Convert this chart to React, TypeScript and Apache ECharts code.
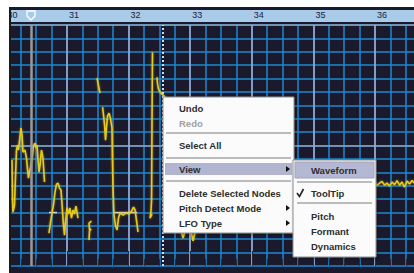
import React, { useEffect, useRef } from 'react';
import * as echarts from 'echarts';

// x = beats counted from bar 30, y = semitone rows of the pitch grid
const FIRST_BAR = 30;
const BEATS_PER_BAR = 4;
const X_MAX = 26.53;
const Y_MAX = 18;

const pitchA = [
  [0.43, 7.91], [0.46, 4.93], [0.49, 4.03], [0.59, 4.55], [0.66, 6.79], [0.72, 8.66],
  [0.79, 9.03], [0.85, 8.66], [0.92, 9.4], [1.01, 10.3], [1.08, 9.78], [1.14, 8.51],
  [1.27, 8.66], [1.37, 8.06], [1.44, 7.16], [1.5, 6.57], [1.56, 7.01], [1.66, 7.54],
  [1.76, 8.28], [1.82, 8.96], [1.92, 9.18], [1.99, 8.81], [2.05, 9.03], [2.12, 7.91],
  [2.18, 7.01], [2.25, 7.54], [2.34, 8.66], [2.44, 8.06], [2.51, 6.79], [2.54, 6.27],
];
const pitchB = [
  [2.83, 2.46], [2.93, 3.28], [3.03, 3.96], [3.12, 4.55], [3.22, 5.52], [3.32, 6.12],
  [3.42, 6.19], [3.51, 5.82], [3.61, 5.67], [3.68, 4.55], [3.77, 3.06], [3.84, 2.31],
  [3.9, 3.28], [4.0, 4.33], [4.1, 3.88], [4.19, 4.33], [4.29, 3.58], [4.39, 4.18],
  [4.49, 3.88], [4.58, 4.48], [4.65, 4.03], [4.71, 3.58],
];
const pitchC = [[5.59, 3.36], [5.43, 3.21], [5.46, 2.69], [5.56, 2.76], [5.46, 2.61], [5.43, 1.94]];
const pitchD1 = [[5.95, 14.03], [6.05, 13.43], [6.14, 12.91]];
const pitchD2 = [
  [6.31, 11.87], [6.37, 11.27], [6.44, 10.52], [6.5, 9.4], [6.56, 10.3], [6.63, 11.19],
  [6.73, 11.42], [6.82, 11.04], [6.92, 10.3], [6.95, 7.91], [6.99, 5.67], [7.05, 3.81],
  [7.15, 2.99], [7.25, 2.69], [7.34, 3.58], [7.44, 3.96], [7.64, 3.81], [7.83, 3.96],
  [8.03, 3.88], [8.19, 4.1], [8.32, 4.4], [8.42, 4.18], [8.51, 3.43], [8.61, 2.54],
];
const pitchE = [[9.55, 15.97], [9.52, 10.9], [9.49, 4.93], [9.45, 4.03], [9.39, 3.58], [9.52, 3.88]];
const pitchF = [[9.84, 14.1], [9.88, 13.58], [9.94, 13.21], [10.04, 12.99], [10.17, 12.84], [10.43, 12.54]];
const pitchG = [[11.34, 3.06], [11.53, 2.09], [11.73, 2.84], [11.99, 2.99], [12.18, 1.87], [12.38, 2.84]];
const pitchH = [
  [23.81, 6.12], [23.97, 6.27], [24.13, 6.01], [24.29, 6.19], [24.45, 6.31], [24.62, 6.04],
  [24.78, 6.19], [24.94, 5.97], [25.1, 6.27], [25.27, 6.08], [25.43, 6.38], [25.59, 6.04],
  [25.75, 6.27], [25.92, 5.9], [26.08, 6.34], [26.24, 6.12], [26.4, 6.38], [26.56, 6.19],
];
const pitchSegments = [pitchA, pitchB, pitchC, pitchD1, pitchD2, pitchE, pitchF, pitchG, pitchH];

const noteA = [[2.83, 4], [3.35, 4]];
const noteB = [[6.99, 4], [8.55, 4]];
const playheadBeat = 1.66;
const cursorBeat = 10.19;

const menuItems = ['Undo', 'Redo', 'Select All', 'View', 'Delete Selected Nodes', 'Pitch Detect Mode', 'LFO Type'];
const subMenuItems = ['Waveform', 'ToolTip', 'Pitch', 'Formant', 'Dynamics'];

const FONT = '"Liberation Sans", Arial, sans-serif';

function menuText(text: string, x: number, y: number, color = '#2e2e2e') {
  return {
    type: 'text',
    z: 200,
    style: { text, x, y, fill: color, fontSize: 9.5, fontWeight: 'bold', fontFamily: FONT, verticalAlign: 'middle' },
  };
}
function sep(x1: number, x2: number, y: number) {
  return { type: 'line', z: 200, shape: { x1, y1: y, x2, y2: y }, style: { stroke: '#7c7c7c', lineWidth: 1 } };
}
function arrow(x: number, y: number) {
  return { type: 'polygon', z: 201, shape: { points: [[x, y - 3], [x + 4, y], [x, y + 3]] }, style: { fill: '#111' } };
}

export default function App() {
  const ref = useRef<HTMLDivElement>(null);
  useEffect(() => {
    if (!ref.current) return;
    const chart = echarts.init(ref.current, undefined, { renderer: 'svg' });

    const pitchSeries = pitchSegments.map((seg) => ({
      type: 'line',
      data: seg,
      symbol: 'none',
      silent: true,
      z: 4,
      lineStyle: { color: '#e4cb1c', width: 1.6, shadowColor: 'rgba(230,180,30,0.6)', shadowBlur: 2 },
    }));

    const menuY = [108, 123, 145, 169, 193, 208, 223];
    const subY = [170, 193, 216, 231, 246];

    const graphics: any[] = [
      { type: 'rect', z: -10, shape: { x: 9, y: 7, width: 405, height: 266 }, style: { fill: '#1b1a2c' } },
      { type: 'rect', z: -5, shape: { x: 11, y: 10, width: 403, height: 12 }, style: { fill: '#a9cbea' } },
      { type: 'rect', z: 100, shape: { x: 0, y: 0, width: 9, height: 273 }, style: { fill: '#ffffff' } },
      { type: 'rect', z: 100, shape: { x: 9, y: 7, width: 2, height: 266 }, style: { fill: '#1a1a1a' } },
      {
        type: 'polygon', z: 60,
        shape: { points: [[27, 11], [35, 11], [35, 16], [31, 20], [27, 16]] },
        style: { fill: 'rgba(0,0,0,0)', stroke: '#ffffff', lineWidth: 1.3 },
      },
      // main context menu
      {
        type: 'rect', z: 199, shape: { x: 163, y: 97, width: 131, height: 136 },
        style: { fill: '#fbfbfb', stroke: '#8e8e8e', lineWidth: 1, shadowBlur: 3, shadowColor: 'rgba(0,0,0,0.35)', shadowOffsetX: 1, shadowOffsetY: 1 },
      },
      { type: 'rect', z: 200, shape: { x: 165, y: 163, width: 127, height: 12 }, style: { fill: '#b1b5cf' } },
      sep(166, 291, 133),
      sep(166, 291, 158),
      sep(166, 291, 181),
      ...menuItems.map((t, i) => menuText(t, 179, menuY[i], t === 'Redo' ? '#a0a0a0' : '#2e2e2e')),
      arrow(286, 169),
      arrow(286, 208),
      arrow(286, 223),
      // submenu
      {
        type: 'rect', z: 202, shape: { x: 293, y: 160, width: 83, height: 97 },
        style: { fill: '#fbfbfb', stroke: '#8e8e8e', lineWidth: 1, shadowBlur: 3, shadowColor: 'rgba(0,0,0,0.35)', shadowOffsetX: 1, shadowOffsetY: 1 },
      },
      { type: 'rect', z: 203, shape: { x: 295, y: 162, width: 79, height: 16 }, style: { fill: '#b4b8d2', stroke: '#9ea3c0', lineWidth: 1 } },
      { ...sep(297, 372, 182), z: 203 },
      { ...sep(297, 372, 203), z: 203 },
      {
        type: 'polyline', z: 204, shape: { points: [[297, 193], [299.5, 196.5], [303.5, 189]] },
        style: { stroke: '#222', lineWidth: 1.6, fill: 'none' },
      },
      ...subMenuItems.map((t, i) => ({ ...menuText(t, 311, subY[i]), z: 204 })),
    ];

    const option: any = {
      animation: false,
      backgroundColor: '#ffffff',
      grid: { left: 5.4, right: 0, top: 25, bottom: 7, show: true, backgroundColor: '#1b1a2c', borderWidth: 0 },
      xAxis: [
        {
          type: 'value', position: 'top', min: 0, max: X_MAX, interval: 1,
          axisLine: { show: false },
          axisLabel: { show: false },
          axisTick: { show: true, length: 7, lineStyle: { color: '#2a2a3a', width: 1 } },
          splitLine: { show: true, showMaxLine: false, lineStyle: { color: '#1d8ad0', width: 1.5 } },
        },
        {
          type: 'value', position: 'top', min: 0, max: X_MAX, interval: BEATS_PER_BAR, z: 1,
          axisLine: { show: false },
          axisTick: { show: true, length: 15, lineStyle: { color: '#2a2a3a', width: 1 } },
          axisLabel: {
            show: true, showMaxLabel: false,
            formatter: (v: number) => String(FIRST_BAR + v / BEATS_PER_BAR),
            align: 'left', verticalAlign: 'middle', margin: 10, padding: [0, 0, 0, 2],
            fontSize: 9, color: '#1a1a3a', fontFamily: FONT,
          },
          splitLine: { show: true, showMaxLine: false, lineStyle: { color: '#a4acd0', width: 1.5 } },
        },
      ],
      yAxis: [
        {
          type: 'value', min: 0, max: Y_MAX, interval: 1,
          axisLine: { show: false }, axisTick: { show: false }, axisLabel: { show: false },
          splitLine: { show: true, lineStyle: { color: '#1d8ad0', width: 1.5 } },
        },
        {
          type: 'value', min: 0, max: Y_MAX, interval: 9, z: 1,
          axisLine: { show: false }, axisTick: { show: false }, axisLabel: { show: false },
          splitLine: { show: true, showMinLine: false, lineStyle: { color: '#8ea0b8', width: 1.5 } },
        },
      ],
      series: [
        {
          type: 'line', data: noteA, symbol: 'none', silent: true, z: 3,
          lineStyle: { color: 'rgba(235,235,245,0.85)', width: 1.5 },
          markLine: {
            symbol: ['none', 'none'], silent: true, label: { show: false },
            data: [
              { xAxis: playheadBeat, lineStyle: { color: '#9a9a9a', width: 2.5, type: 'solid' } },
              { xAxis: cursorBeat, lineStyle: { color: '#d6d6e2', width: 2, type: [2, 2] } },
            ],
          },
        },
        {
          type: 'line', data: noteB, symbol: 'none', silent: true, z: 3,
          lineStyle: { color: 'rgba(235,235,245,0.85)', width: 1.5 },
        },
        ...pitchSeries,
      ],
      graphic: { elements: graphics },
    };
    chart.setOption(option);
    return () => chart.dispose();
  }, []);

  return <div ref={ref} style={{ position: 'fixed', left: 0, top: 0, width: 414, height: 273 }} />;
}
